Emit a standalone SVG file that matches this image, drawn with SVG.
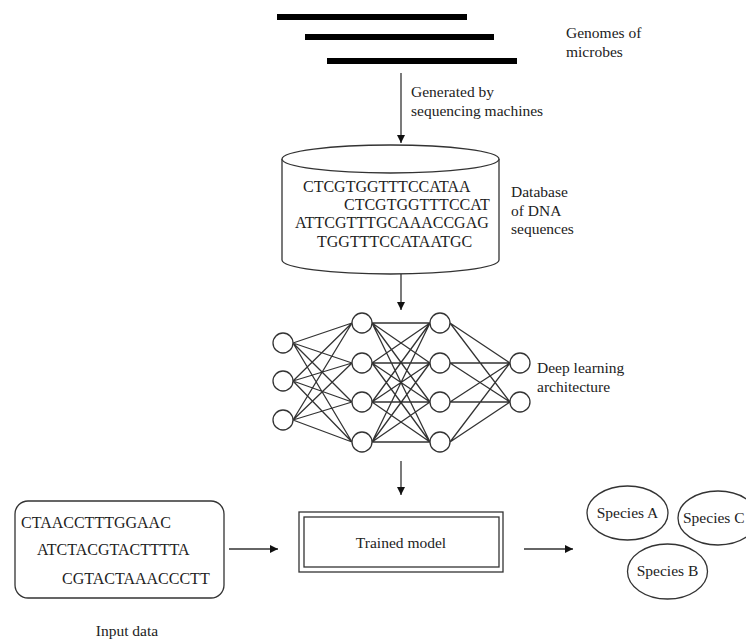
<svg xmlns="http://www.w3.org/2000/svg" width="746" height="641" viewBox="0 0 746 641" font-family="'Liberation Serif', 'Times New Roman', serif">
<defs>
<style>
text{font-family:'Liberation Serif','Times New Roman',serif;fill:#222;font-size:15.5px}
.dna{font-size:16px}
.ln{stroke:#333;stroke-width:1.3;fill:none}
.nd{stroke:#333;stroke-width:1.3;fill:#fff}
.bar{stroke:#000;stroke-width:6}
</style>
<marker id="ah" viewBox="0 0 10 10" refX="10" refY="5" markerWidth="8" markerHeight="8" markerUnits="userSpaceOnUse" orient="auto">
<path d="M0,0 L10,5 L0,10 z" fill="#111"/>
</marker>
</defs>
<rect width="746" height="641" fill="#fff"/>
<g id="genomes">
<line class="bar" x1="277" y1="17" x2="467" y2="17"/>
<line class="bar" x1="305" y1="37" x2="494" y2="37"/>
<line class="bar" x1="327" y1="61" x2="517" y2="61"/>
<text x="566" y="38">Genomes of</text>
<text x="566" y="57">microbes</text>
</g>
<g id="connectors">
<line class="ln" x1="401" y1="73" x2="401" y2="143" marker-end="url(#ah)"/>
<line class="ln" x1="401" y1="274" x2="401" y2="310" marker-end="url(#ah)"/>
<line class="ln" x1="401" y1="461" x2="401" y2="495" marker-end="url(#ah)"/>
<line class="ln" x1="229" y1="549" x2="278" y2="549" marker-end="url(#ah)"/>
<line class="ln" x1="524" y1="549" x2="573" y2="549" marker-end="url(#ah)"/>
</g>
<g id="label-generated">
<text x="411" y="97">Generated by</text>
<text x="411" y="116">sequencing machines</text>
</g>
<g id="database">
<path class="nd" d="M282,159 L282,260 A108.5,14 0 0 0 499,260 L499,159"/>
<ellipse class="nd" cx="390.5" cy="159" rx="108.5" ry="14"/>
<text class="dna" x="303" y="192">CTCGTGGTTTCCATAA</text>
<text class="dna" x="344" y="210">CTCGTGGTTTCCAT</text>
<text class="dna" x="295" y="228">ATTCGTTTGCAAACCGAG</text>
<text class="dna" x="317" y="247">TGGTTTCCATAATGC</text>
<text x="511" y="197">Database</text>
<text x="511" y="216">of DNA</text>
<text x="511" y="234">sequences</text>
</g>
<g id="network">
<g class="ln">
<path d="M293,343 L352,323 M293,343 L352,363 M293,343 L352,402 M293,343 L352,442
M293,381 L352,323 M293,381 L352,363 M293,381 L352,402 M293,381 L352,442
M293,420 L352,323 M293,420 L352,363 M293,420 L352,402 M293,420 L352,442
M372,323 L430,323 M372,323 L430,363 M372,323 L430,402 M372,323 L430,442
M372,363 L430,323 M372,363 L430,363 M372,363 L430,402 M372,363 L430,442
M372,402 L430,323 M372,402 L430,363 M372,402 L430,402 M372,402 L430,442
M372,442 L430,323 M372,442 L430,363 M372,442 L430,402 M372,442 L430,442
M450,323 L510,363 M450,323 L510,402 M450,363 L510,363 M450,363 L510,402
M450,402 L510,363 M450,402 L510,402 M450,442 L510,363 M450,442 L510,402"/>
</g>
<circle class="nd" cx="283" cy="343" r="10"/>
<circle class="nd" cx="283" cy="381" r="10"/>
<circle class="nd" cx="283" cy="420" r="10"/>
<circle class="nd" cx="362" cy="323" r="10"/>
<circle class="nd" cx="362" cy="363" r="10"/>
<circle class="nd" cx="362" cy="402" r="10"/>
<circle class="nd" cx="362" cy="442" r="10"/>
<circle class="nd" cx="440" cy="323" r="10"/>
<circle class="nd" cx="440" cy="363" r="10"/>
<circle class="nd" cx="440" cy="402" r="10"/>
<circle class="nd" cx="440" cy="442" r="10"/>
<circle class="nd" cx="520" cy="363" r="10"/>
<circle class="nd" cx="520" cy="402" r="10"/>
<text x="537" y="373">Deep learning</text>
<text x="537" y="392">architecture</text>
</g>
<g id="input">
<rect class="nd" x="15" y="501" width="209" height="97" rx="13"/>
<text class="dna" x="21" y="528">CTAACCTTTGGAAC</text>
<text class="dna" x="37" y="555">ATCTACGTACTTTTA</text>
<text class="dna" x="62" y="584">CGTACTAAACCCTT</text>
<text x="127" y="636" text-anchor="middle">Input data</text>
</g>
<g id="model">
<rect class="nd" x="299" y="512" width="204" height="60"/>
<rect class="nd" x="304" y="517" width="195" height="50"/>
<text x="401" y="548" text-anchor="middle">Trained model</text>
</g>
<g id="speciesA">
<ellipse class="nd" cx="627.5" cy="513" rx="40.5" ry="27"/>
<text x="627.5" y="518" text-anchor="middle">Species A</text>
</g>
<g id="speciesC">
<ellipse class="nd" cx="718" cy="518" rx="40" ry="27"/>
<text x="683" y="523">Species C</text>
</g>
<g id="speciesB">
<ellipse class="nd" cx="667.5" cy="571.5" rx="40" ry="27.5"/>
<text x="667.5" y="576" text-anchor="middle">Species B</text>
</g>
</svg>
